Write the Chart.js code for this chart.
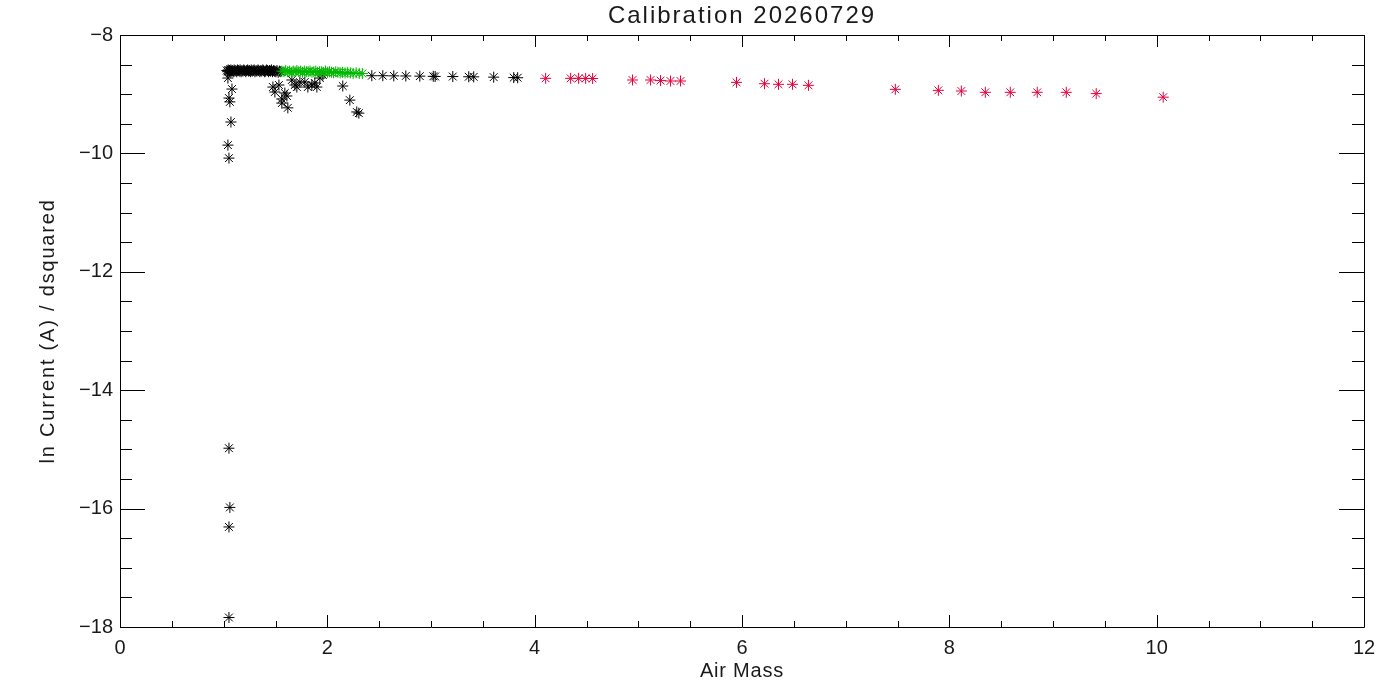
<!DOCTYPE html>
<html>
<head>
<meta charset="utf-8">
<script src="https://cdn.jsdelivr.net/npm/chart.js@4.4.1/dist/chart.umd.min.js"></script>
<style>
  html, body { margin: 0; padding: 0; background: #ffffff; }
  #wrap { width: 1400px; height: 700px; position: relative; }
</style>
</head>
<body>
<div id="wrap"><canvas id="c"></canvas></div>
<script>
// ---- Data ----
const titleText = 'Calibration 20260729';
const xTitle = 'Air Mass';
const yTitle = 'ln Current (A) / dsquared';
const xTickValues = [0, 2, 4, 6, 8, 10, 12];
const yTickValues = [-18, -16, -14, -12, -10, -8];

// black points: dense band, scattered low points, and tail
const blackX = [1.031,1.038,1.044,1.049,1.056,1.063,1.069,1.077,1.084,1.092,1.101,1.108,1.117,1.126,1.133,1.142,1.151,1.159,1.168,1.176,1.186,1.194,1.203,1.213,1.222,1.231,1.239,1.248,1.258,1.266,1.276,1.285,1.294,1.302,1.312,1.321,1.331,1.339,1.349,1.358,1.367,1.377,1.386,1.395,1.405,1.414,1.424,1.433,1.442,1.452,1.461,1.471,1.482,1.492,1.503,1.514,1.526,1.538,1.551,
  1.041,1.080,1.051,1.060,1.070,1.041,1.051,1.051,1.060,1.051,1.051,
  1.475,1.494,1.533,1.590,1.610,1.561,1.561,1.619,1.658,1.687,1.706,1.735,1.783,1.812,1.851,1.879,1.899,1.928,1.957,2.149,2.217,2.284,2.304,
  2.429,2.535,2.641,2.757,2.892,3.022,3.040,3.210,3.364,3.412,3.605,3.798,3.836];
const blackY = [-8.60,-8.62,-8.59,-8.61,-8.60,-8.63,-8.59,-8.61,-8.60,-8.62,-8.59,-8.61,-8.60,-8.62,-8.59,-8.60,-8.61,-8.59,-8.62,-8.60,-8.61,-8.59,-8.60,-8.62,-8.60,-8.59,-8.61,-8.60,-8.62,-8.59,-8.61,-8.60,-8.59,-8.62,-8.60,-8.61,-8.59,-8.60,-8.62,-8.60,-8.61,-8.59,-8.60,-8.62,-8.61,-8.59,-8.60,-8.62,-8.60,-8.61,-8.59,-8.62,-8.60,-8.61,-8.62,-8.60,-8.63,-8.61,-8.62,
  -8.727,-8.913,-9.065,-9.13,-9.47,-9.86,-10.08,-14.98,-15.98,-16.31,-17.84,
  -8.879,-8.963,-8.845,-8.98,-9.03,-9.08,-9.15,-9.23,-8.76,-8.845,-8.879,-8.794,-8.794,-8.879,-8.845,-8.811,-8.879,-8.727,-8.676,-8.862,-9.10,-9.30,-9.32,
  -8.688,-8.688,-8.690,-8.692,-8.695,-8.698,-8.700,-8.702,-8.705,-8.707,-8.712,-8.720,-8.722];

// green points: band at moderate air mass
const greenX = [1.562,1.581,1.598,1.617,1.634,1.652,1.671,1.689,1.706,1.724,1.743,1.761,1.778,1.797,1.815,1.833,1.852,1.870,1.889,1.907,1.926,1.945,1.963,1.982,2.001,2.021,2.040,2.060,2.081,2.102,2.124,2.147,2.171,2.196,2.222,2.249,2.278,2.308,2.338];
const greenY = [-8.61,-8.62,-8.60,-8.62,-8.61,-8.63,-8.61,-8.62,-8.60,-8.62,-8.61,-8.63,-8.61,-8.62,-8.62,-8.61,-8.63,-8.62,-8.61,-8.63,-8.62,-8.62,-8.63,-8.61,-8.63,-8.62,-8.63,-8.64,-8.62,-8.63,-8.64,-8.63,-8.64,-8.63,-8.64,-8.65,-8.64,-8.65,-8.65];

// red points: high air mass
const redX = [4.106,4.347,4.424,4.492,4.559,4.944,5.118,5.214,5.310,5.407,5.947,6.217,6.352,6.487,6.641,7.479,7.894,8.116,8.347,8.588,8.848,9.128,9.417,10.063];
const redY = [-8.732,-8.732,-8.732,-8.733,-8.735,-8.760,-8.760,-8.770,-8.777,-8.777,-8.800,-8.823,-8.833,-8.833,-8.850,-8.918,-8.935,-8.946,-8.968,-8.968,-8.968,-8.968,-8.990,-9.050];

const FONT = '"Liberation Sans", Arial, sans-serif';
const TXT = '#1a1a1a';

function pts(xs, ys) { return xs.map((x, i) => ({ x: x, y: ys[i] })); }
function fmt(v) { return v < 0 ? '\u2212' + Math.abs(v) : String(v); }

// ticks inside the frame on all four sides, placed through the chart's scales
const frameTicks = {
  id: 'frameTicks',
  afterDatasetsDraw(chart) {
    const { ctx, chartArea: a, scales } = chart;
    const xs = scales.x, ys = scales.y;
    ctx.save();
    ctx.strokeStyle = '#000';
    ctx.lineWidth = 1;
    ctx.beginPath();
    ctx.rect(Math.round(a.left) + 0.5, Math.round(a.top) + 0.5, Math.round(a.right - a.left), Math.round(a.bottom - a.top));
    ctx.stroke();
    ctx.beginPath();
    for (let v = xs.min; v <= xs.max + 1e-9; v += 0.5) {
      const px = Math.round(xs.getPixelForValue(v)) + 0.5;
      const major = Math.abs(v / 2 - Math.round(v / 2)) < 1e-6;
      const len = major ? 12 : 6;
      ctx.moveTo(px, a.bottom); ctx.lineTo(px, a.bottom - len);
      ctx.moveTo(px, a.top); ctx.lineTo(px, a.top + len);
    }
    for (let v = ys.min; v <= ys.max + 1e-9; v += 0.5) {
      const py = Math.round(ys.getPixelForValue(v)) + 0.5;
      const major = Math.abs(v / 2 - Math.round(v / 2)) < 1e-6;
      const len = major ? 25 : 12;
      ctx.moveTo(a.left, py); ctx.lineTo(a.left + len, py);
      ctx.moveTo(a.right, py); ctx.lineTo(a.right - len, py);
    }
    ctx.stroke();
    ctx.restore();
  }
};

// wider letter spacing for the titles, like the original plotting font
const spacing = {
  id: 'spacing',
  afterLayout(chart) {
    const wrap = (obj, fn, sp) => {
      if (!obj || typeof obj[fn] !== 'function' || obj['_sp_' + fn]) return;
      const orig = obj[fn];
      obj[fn] = function (...args) {
        const c = chart.ctx;
        const prev = c.letterSpacing;
        c.letterSpacing = sp;
        const r = orig.apply(this, args);
        c.letterSpacing = prev || '0px';
        return r;
      };
      obj['_sp_' + fn] = true;
    };
    wrap(chart.titleBlock, 'draw', '2px');
    wrap(chart.scales.x, 'drawTitle', '0.8px');
    wrap(chart.scales.y, 'drawTitle', '1.8px');
  }
};

const common = { pointStyle: 'star', pointRadius: 5.5, pointHoverRadius: 5.5, borderWidth: 1, showLine: false };

new Chart(document.getElementById('c'), {
  type: 'scatter',
  data: {
    datasets: [
      Object.assign({ label: 'red', data: pts(redX, redY), borderColor: '#e6003c', backgroundColor: '#e6003c', order: 0 }, common),
      Object.assign({ label: 'green', data: pts(greenX, greenY), borderColor: '#00b800', backgroundColor: '#00b800', order: 1 }, common),
      Object.assign({ label: 'black', data: pts(blackX, blackY), borderColor: '#000000', backgroundColor: '#000000', order: 2 }, common)
    ]
  },
  options: {
    responsive: true,
    maintainAspectRatio: false,
    animation: false,
    layout: { padding: { left: 0, right: 36, top: 0, bottom: 0 } },
    plugins: {
      legend: { display: false },
      tooltip: { enabled: false },
      title: {
        display: true, text: titleText, fullSize: false, color: TXT,
        font: { family: FONT, size: 24, weight: 'normal', lineHeight: 1.2 },
        padding: { top: 2, bottom: 4.2 }
      }
    },
    scales: {
      x: {
        type: 'linear', position: 'bottom', min: 0, max: 12,
        afterBuildTicks(s) { s.ticks = xTickValues.map(v => ({ value: v })); },
        afterFit(s) { s.height = 73; },
        grid: { display: false, drawTicks: false },
        border: { display: false },
        ticks: { color: TXT, padding: 9, maxRotation: 0, font: { family: FONT, size: 20, lineHeight: 1.2 }, callback: v => fmt(v) },
        title: { display: true, text: xTitle, color: TXT, font: { family: FONT, size: 20, lineHeight: 1.2 }, padding: { top: 0, bottom: 17 } }
      },
      y: {
        type: 'linear', position: 'left', min: -18, max: -8,
        afterBuildTicks(s) { s.ticks = yTickValues.map(v => ({ value: v })); },
        afterFit(s) { s.width = 120; },
        grid: { display: false, drawTicks: false },
        border: { display: false },
        ticks: { color: TXT, padding: 7, font: { family: FONT, size: 20, lineHeight: 1.2 }, callback: v => fmt(v) },
        title: { display: true, text: yTitle, color: TXT, font: { family: FONT, size: 20, lineHeight: 1.2 }, padding: { top: 36, bottom: 0 } }
      }
    }
  },
  plugins: [frameTicks, spacing]
});
</script>
</body>
</html>
